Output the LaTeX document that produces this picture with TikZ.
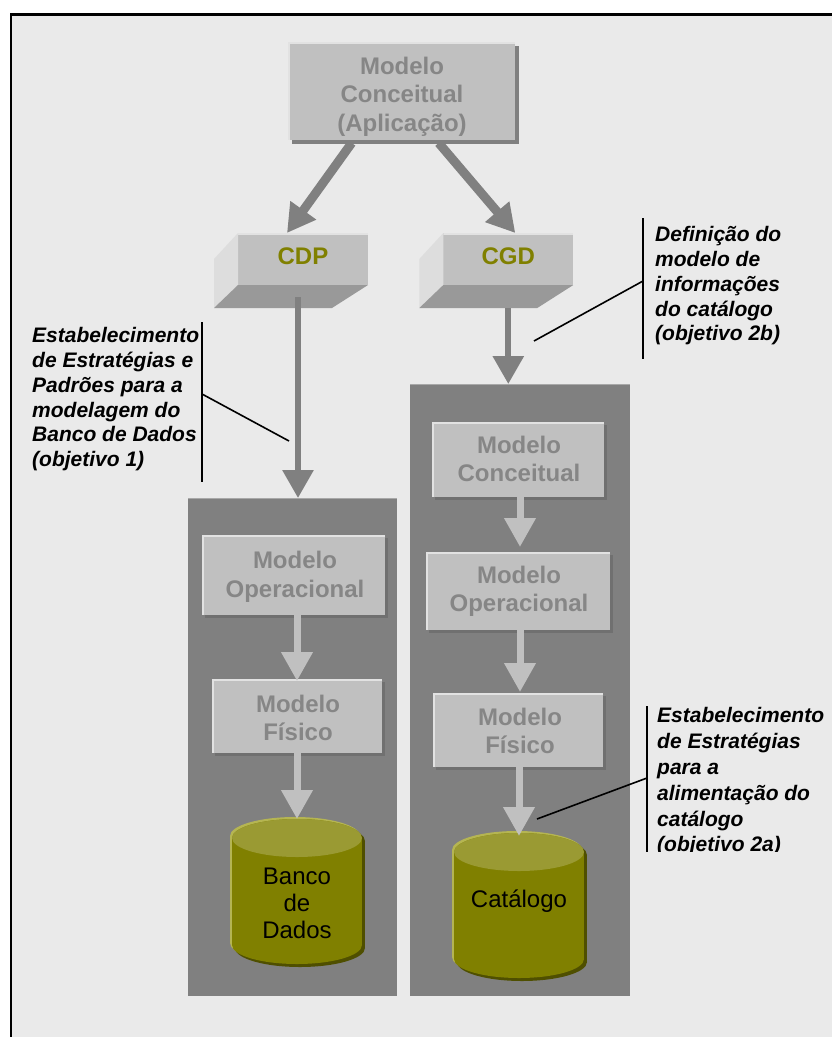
\documentclass[tikz,border=0pt]{standalone}
\usepackage{fontspec}
\setmainfont{Liberation Sans}
\usetikzlibrary{arrows.meta,shadows}

\definecolor{pagebg}{HTML}{EAEAEA}
\definecolor{panelgray}{HTML}{808080}
\definecolor{panelrim}{HTML}{A8A8A8}
\definecolor{boxgray}{HTML}{C0C0C0}
\definecolor{boxlight}{HTML}{E2E2E2}
\definecolor{boxdark}{HTML}{707070}
\definecolor{topshadow}{HTML}{808080}
\definecolor{labelgray}{HTML}{868686}
\definecolor{olivebody}{HTML}{808000}
\definecolor{olivetop}{HTML}{9A9A33}
\definecolor{olivelight}{HTML}{B5B552}
\definecolor{olivedark}{HTML}{4F4F00}
\definecolor{bevelside}{HTML}{DDDDDD}
\definecolor{bevelbottom}{HTML}{999999}
\definecolor{arrowdark}{HTML}{808080}

% cylinder drawn inside the bounding box of a named node
\newcommand{\oliveDrum}[2]{%
  \fill[#2] ([yshift=-19pt]#1.north west) rectangle ([yshift=19pt]#1.south east);
  \fill[#2] ([yshift=19pt]#1.south) ellipse [x radius=65pt, y radius=19pt];
  \fill[#2] ([yshift=-19pt]#1.north) ellipse [x radius=65pt, y radius=19pt];
}
\newcommand{\oliveCylinder}[1]{%
  \begin{scope}[transform canvas={shift={(-2pt,2pt)}}]\oliveDrum{#1}{olivelight}\end{scope}
  \begin{scope}[transform canvas={shift={(3pt,-3pt)}}]\oliveDrum{#1}{olivedark}\end{scope}
  \oliveDrum{#1}{olivebody}
  \fill[olivetop] ([yshift=-19pt]#1.north) ellipse [x radius=65pt, y radius=19pt];
}

\begin{document}
\begin{tikzpicture}[x=1pt, y=-1pt,
  hilite/.style={path picture={\draw[boxlight, line width=3pt]
      (path picture bounding box.south west) -- (path picture bounding box.north west)
      -- (path picture bounding box.north east);}},
  panel/.style={rectangle, fill=panelgray, inner sep=0pt, outer sep=0pt,
    path picture={\draw[panelrim, line width=2pt]
      (path picture bounding box.north west) -- (path picture bounding box.north east);}},
  modelbox/.style={rectangle, fill=boxgray, inner sep=0pt, outer sep=0pt, hilite,
    general shadow={fill=boxdark, shadow xshift=3pt, shadow yshift=-3pt}},
  topbox/.style={rectangle, fill=boxgray, inner sep=0pt, outer sep=0pt, hilite,
    general shadow={fill=topshadow, shadow xshift=4pt, shadow yshift=-4pt}},
  modeltext/.style={font=\bfseries\fontsize{24}{28.5}\selectfont, text=labelgray,
    align=center, inner sep=0pt},
  bevelfront/.style={rectangle, fill=boxgray, inner sep=0pt, outer sep=0pt,
    minimum width=130pt, minimum height=52pt, text depth=5pt,
    font=\bfseries\fontsize{24}{28}\selectfont, text=olivebody,
    path picture={\draw[boxlight, line width=3pt]
      (path picture bounding box.north west) -- (path picture bounding box.north east);}},
  drumframe/.style={rectangle, inner sep=0pt, outer sep=0pt,
    minimum width=130pt, minimum height=145pt},
  drumtext/.style={font=\fontsize{24}{27}\selectfont, text=black, align=center, inner sep=0pt},
  bigarrow/.style={draw=arrowdark, line width=9pt, -{Triangle[length=28pt,width=30pt]}},
  innerarrow/.style={draw=boxgray, line width=7pt, -{Triangle[length=29pt,width=30pt]}},
  annot/.style={font=\bfseries\itshape\fontsize{21}{24.7}\selectfont, text=black,
    align=left, inner sep=0pt, anchor=north west},
  annotline/.style={draw=black, line width=1.6pt}
]
\useasboundingbox (0,0) rectangle (832,1037);
\clip (0,0) rectangle (832,1037);

% page and frame
\fill[white] (0,0) rectangle (832,1037);
\fill[pagebg] (11.2,14.5) rectangle (840,1045);
\draw[black, line width=2.3pt] (11.2,1045) -- (11.2,14.5) -- (840,14.5);

% dark panels
\node[panel, minimum width=209pt, minimum height=498pt] (lpanel) at (292.5,747) {};
\node[panel, minimum width=220pt, minimum height=612pt] (rpanel) at (520,690) {};

% application conceptual model
\node[topbox, minimum width=227pt, minimum height=98pt] (conc) at (401.7,91) {};
\node[modeltext] (concT) at (402,96.5) {Modelo\\Conceitual\\(Aplicação)};

% CDP and CGD blocks
\node[bevelfront] (cdp) at (303,259) {CDP};
\fill[bevelside] (cdp.north west) -- ++(-24,26) -- ([shift={(-24,23)}]cdp.south west) -- (cdp.south west) -- cycle;
\fill[bevelbottom] (cdp.south west) -- (cdp.south east) -- ++(-36,23) -- ([shift={(-24,23)}]cdp.south west) -- cycle;

\node[bevelfront] (cgd) at (508.3,259) {CGD};
\fill[bevelside] (cgd.north west) -- ++(-24,26) -- ([shift={(-24,23)}]cgd.south west) -- (cgd.south west) -- cycle;
\fill[bevelbottom] (cgd.south west) -- (cgd.south east) -- ++(-36,23) -- ([shift={(-24,23)}]cgd.south west) -- cycle;

% arrows between the upper blocks
\draw[bigarrow] ([shift={(-50,3)}]conc.south) -- ([xshift=-16pt]cdp.north);
\draw[bigarrow] ([shift={(37,3)}]conc.south) -- ([xshift=7pt]cgd.north);
\draw[bigarrow, line width=6pt] ([shift={(-5,12)}]cdp.south) -- ([xshift=-5pt]cdp.south |- lpanel.north);
\draw[bigarrow, line width=6pt] ([shift={(0,23)}]cgd.south) -- (cgd.south |- rpanel.north);

% left column: database models
\node[modelbox, minimum width=183pt, minimum height=80pt] (lop) at (293.5,575) {};
\node[modeltext] (lopT) at (295,577) {Modelo\\Operacional};
\node[modelbox, minimum width=170pt, minimum height=74pt] (lfis) at (297,716) {};
\node[modeltext] (lfisT) at (298,718) {Modelo\\Físico};

% right column: catalogue models
\node[modelbox, minimum width=172pt, minimum height=75pt] (rcon) at (518,459.5) {};
\node[modeltext] (rconT) at (519,459) {Modelo\\Conceitual};
\node[modelbox, minimum width=184pt, minimum height=78pt] (rop) at (518,591) {};
\node[modeltext] (ropT) at (519,591.5) {Modelo\\Operacional};
\node[modelbox, minimum width=170pt, minimum height=74pt] (rfis) at (518,730) {};
\node[modeltext] (rfisT) at (520,731) {Modelo\\Físico};

% storage cylinders
\node[drumframe] (bd) at (297,891.5) {};
\oliveCylinder{bd}
\node[drumtext] (bdT) at (297,903) {Banco\\de\\Dados};
\node[drumframe] (cat) at (519,905.5) {};
\oliveCylinder{cat}
\node[drumtext] (catT) at (519,901) {Catálogo};

% arrows inside the panels
\draw[innerarrow] (lop.south -| lfis.north) -- ([yshift=-2pt]lfis.north);
\draw[innerarrow] (lfis.south -| bd.north) -- (bd.north);
\draw[innerarrow] ([xshift=2pt]rcon.south) -- ([shift={(2,-5)}]rop.north);
\draw[innerarrow] ([xshift=2pt]rop.south) -- ([shift={(2,-1)}]rfis.north);
\draw[innerarrow] (rfis.south -| cat.north) -- ([yshift=-3pt]cat.north);

% annotation: strategies for the database
\node[annot] (noteA) at (32,327.5) {Estabelecimento\\de Estratégias e\\Padrões para a\\modelagem do\\Banco de Dados\\(objetivo 1)};
\coordinate (noteAtop) at (202,322);
\coordinate (noteAbot) at (202,482);
\coordinate (noteAknee) at (202,394);
\coordinate (noteAend) at (289,441);
\draw[annotline] (noteAtop) -- (noteAbot);
\draw[annotline] (noteAknee) -- (noteAend);

% annotation: catalogue information model
\node[annot] (noteB) at (655,226.5) {Definição do\\modelo de\\informações\\do catálogo\\(objetivo 2b)};
\coordinate (noteBtop) at (643,218);
\coordinate (noteBbot) at (643,359);
\coordinate (noteBknee) at (643,281);
\coordinate (noteBend) at (534,341);
\draw[annotline] (noteBtop) -- (noteBbot);
\draw[annotline] (noteBknee) -- (noteBend);

% annotation: catalogue feeding (cut at its lower edge)
\begin{scope}
  \clip (600,690) rectangle (832,851);
  \node[annot, font=\bfseries\itshape\fontsize{21}{25.8}\selectfont] (noteC) at (657,707.5)
    {Estabelecimento\\de Estratégias\\para a\\alimentação do\\catálogo\\(objetivo 2a)};
  \coordinate (noteCtop) at (647,706);
  \coordinate (noteCbot) at (647,853);
  \draw[annotline] (noteCtop) -- (noteCbot);
\end{scope}
\coordinate (noteCknee) at (647,778);
\coordinate (noteCend) at (537,819);
\draw[annotline] (noteCknee) -- (noteCend);
\end{tikzpicture}
\end{document}
